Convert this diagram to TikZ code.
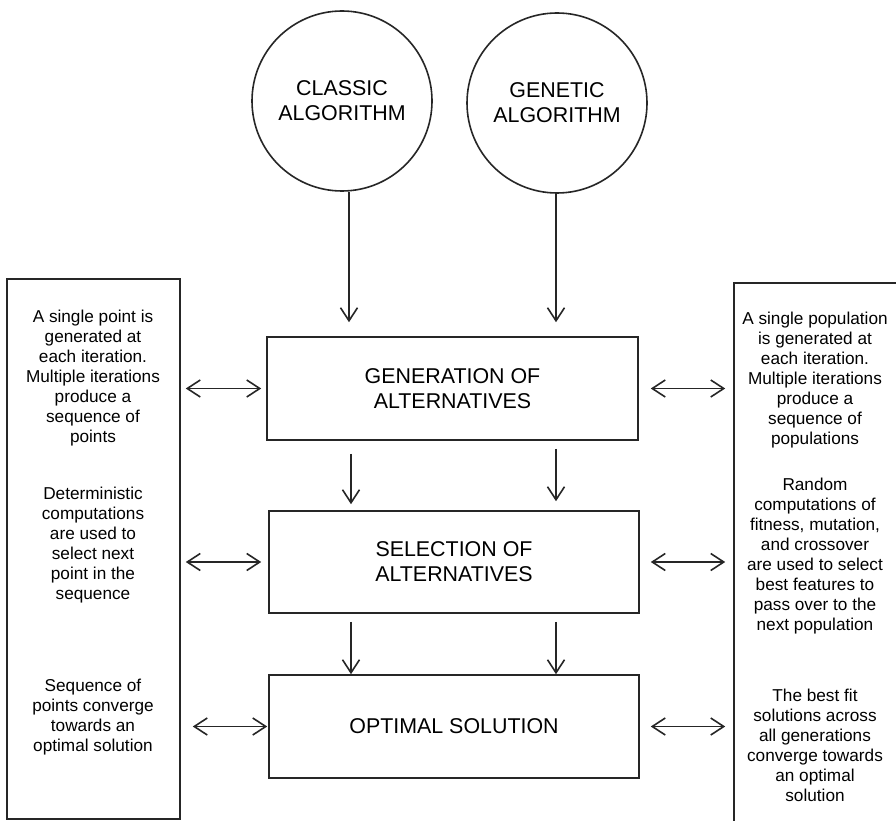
\documentclass[tikz,border=0pt]{standalone}
\usepackage{fontspec}
\setmainfont{Liberation Sans}
\usetikzlibrary{arrows.meta}
\begin{document}
\begin{tikzpicture}[x=1pt,y=-1pt,
  line width=1.6pt,
  every node/.style={text=black},
  tipbarb/.tip={Straight Barb[length=13pt,width=17pt]},
  arr/.style={draw=black!85,-tipbarb},
  darr/.style={draw=black!85,tipbarb-tipbarb},
  big/.style={font=\fontsize{21.4}{25}\selectfont, align=center},
  small/.style={font=\fontsize{17.2}{20}\selectfont, align=center, inner sep=0pt},
  proc/.style={draw=black!85, minimum width=370pt, minimum height=103pt, inner sep=0pt, big},
  algo/.style={draw=black!85, circle, minimum size=180pt, inner sep=0pt, big},
  side/.style={draw=black!85, inner sep=0pt}]
\clip (0,0) rectangle (896,821);
\fill[white] (0,0) rectangle (896,821);

% algorithms
\node[algo] (c1) at (342,101) {CLASSIC\\ALGORITHM};
\node[algo] (c2) at (557,103) {GENETIC\\ALGORITHM};

% process boxes
\node[proc, minimum width=371pt] (gen) at (452.5,388.5) {GENERATION OF\\ALTERNATIVES};
\node[proc, minimum height=102pt] (sel) at (454,562) {SELECTION OF\\ALTERNATIVES};
\node[proc] (opt) at (454,726.5) {OPTIMAL SOLUTION};

% side boxes
\node[side, minimum width=173pt, minimum height=540pt] (lbox) at (93.5,549) {};
\node[side, minimum width=226pt, minimum height=617pt] (rbox) at (847,591.5) {};

% side texts
\node[small] (lt1) at (93,378) {A single point is\\generated at\\each iteration.\\Multiple iterations\\produce a\\sequence of\\points};
\node[small] (lt2) at (93,545) {Deterministic\\computations\\are used to\\select next\\point in the\\sequence};
\node[small] (lt3) at (93,717) {Sequence of\\points converge\\towards an\\optimal solution};
\node[small] (rt1) at (815,380) {A single population\\is generated at\\each iteration.\\Multiple iterations\\produce a\\sequence of\\populations};
\node[small] (rt2) at (815,556) {Random\\computations of\\fitness, mutation,\\and crossover\\are used to select\\best features to\\pass over to the\\next population};
\node[small] (rt3) at (815,745) {The best fit\\solutions across\\all generations\\converge towards\\an optimal\\solution};

% vertical arrows
\draw[arr, shorten >=14pt] ([xshift=7pt]c1.south) -- ([xshift=7pt]c1.south |- gen.north);
\draw[arr, shorten >=14pt] ([xshift=-1pt]c2.south) -- ([xshift=-1pt]c2.south |- gen.north);
\draw[arr, shorten <=13pt, shorten >=6pt] ([xshift=-101.5pt]gen.south) -- ([xshift=-101.5pt]gen.south |- sel.north);
\draw[arr, shorten <=8pt, shorten >=9pt] ([xshift=103.5pt]gen.south) -- ([xshift=103.5pt]gen.south |- sel.north);
\draw[arr, shorten <=8pt] ([xshift=-103pt]sel.south) -- ([xshift=-103pt]sel.south |- opt.north);
\draw[arr, shorten <=8pt] ([xshift=102pt]sel.south) -- ([xshift=102pt]sel.south |- opt.north);

% horizontal arrows
\draw[darr, shorten <=5pt, shorten >=5pt] (lbox.east |- gen.west) -- (gen.west);
\draw[darr, shorten <=5pt, shorten >=7pt] (lbox.east |- sel.west) -- (sel.west);
\draw[darr, shorten <=12pt, shorten >=1pt] (lbox.east |- opt.west) -- (opt.west);
\draw[darr, shorten <=12pt, shorten >=8pt] (gen.east) -- (gen.east -| rbox.west);
\draw[darr, shorten <=11pt, shorten >=8pt] (sel.east) -- (sel.east -| rbox.west);
\draw[darr, shorten <=11pt, shorten >=8pt] (opt.east) -- (opt.east -| rbox.west);
\end{tikzpicture}
\end{document}
